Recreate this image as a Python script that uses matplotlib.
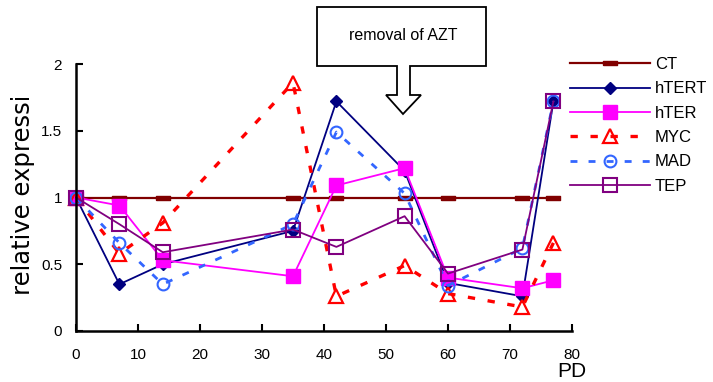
import matplotlib
matplotlib.use("Agg")
import matplotlib.pyplot as plt
from matplotlib.patches import Polygon
from matplotlib.transforms import Bbox, TransformedBbox
from matplotlib.ticker import FuncFormatter

plt.rcParams['font.family'] = ['Liberation Sans', 'DejaVu Sans']

# ---- data ----
pd_days = [0, 7, 14, 35, 42, 53, 60, 72, 77]
ct    = [1.0, 1.0, 1.0, 1.0, 1.0, 1.0, 1.0, 1.0, 1.0]
htert = [1.0, 0.35, 0.50, 0.75, 1.72, 1.20, 0.36, 0.26, 1.72]
hter  = [1.0, 0.94, 0.53, 0.41, 1.09, 1.22, 0.40, 0.32, 0.38]
myc   = [1.0, 0.58, 0.81, 1.86, 0.26, 0.49, 0.28, 0.18, 0.66]
mad   = [1.0, 0.66, 0.35, 0.80, 1.49, 1.03, 0.34, 0.62, 1.72]
tep   = [1.0, 0.80, 0.59, 0.76, 0.63, 0.86, 0.43, 0.61, 1.72]
series_labels = ["CT", "hTERT", "hTER", "MYC", "MAD", "TEP"]
x_ticks = [0, 10, 20, 30, 40, 50, 60, 70, 80]
y_ticks = [0, 0.5, 1, 1.5, 2]
annotation_text = "removal of AZT"
x_label = "PD"
y_label = "relative expression"

W, H = 713, 382
fig = plt.figure(figsize=(W / 100, H / 100), dpi=100)
ax = fig.add_axes([76 / W, 1 - 331 / H, (572 - 76) / W, (331 - 64) / H])

bar_marker = [(-3.2, -1), (3.2, -1), (3.2, 1), (-3.2, 1), (-3.2, -1)]

ax.plot(pd_days, ct, color='#800000', lw=1.6, marker=bar_marker, ms=9.5,
        mfc='#800000', mec='#800000', label=series_labels[0], clip_on=False)
ax.plot(pd_days, htert, color='#000080', lw=1.3, marker='D', ms=6.5,
        mfc='#000080', mec='#000080', label=series_labels[1], clip_on=False)
ax.plot(pd_days, hter, color='#FF00FF', lw=1.3, marker='s', ms=9.5,
        mfc='#FF00FF', mec='#FF00FF', label=series_labels[2], clip_on=False)
ax.plot(pd_days, myc, color='#FF0000', lw=2.4, ls=(0, (2.2, 3.8)), marker='^', ms=10,
        mfc='none', mec='#FF0000', mew=1.6, label=series_labels[3], clip_on=False)
ax.plot(pd_days, mad, color='#3366FF', lw=2.0, ls=(0, (2.5, 4)), marker='o', ms=8.5,
        mfc='none', mec='#3366FF', mew=1.5, label=series_labels[4], clip_on=False)
ax.plot(pd_days, tep, color='#800080', lw=1.3, marker='s', ms=10,
        mfc='none', mec='#800080', mew=1.5, label=series_labels[5], clip_on=False)

ax.set_xlim(0, 80)
ax.set_ylim(0, 2)
ax.set_xticks(x_ticks)
ax.set_yticks(y_ticks)
ax.yaxis.set_major_formatter(FuncFormatter(lambda v, p: f"{v:g}"))
for s in ['top', 'right']:
    ax.spines[s].set_visible(False)
for s in ['left', 'bottom']:
    ax.spines[s].set_linewidth(1.8)
ax.tick_params(direction='in', length=5, width=1.5, labelsize=11, pad=10)
ax.tick_params(axis='x', pad=12)
ax.set_facecolor('none')

fig.text(572 / W, 1 - 377 / H, x_label, fontsize=15, ha='center', va='baseline')
yl = fig.text(23 / W, 1 - 295 / H, y_label, fontsize=17.5, rotation=90,
              ha='center', va='bottom', family=['DejaVu Sans'])
yl.set_clip_box(TransformedBbox(Bbox([[0, 0], [60 / W, 1 - 98 / H]]), fig.transFigure))

leg = fig.legend(loc='upper left', bbox_to_anchor=(570 / W, 1 - 57 / H), frameon=False,
                 fontsize=12, handlelength=4.8, handletextpad=0.3, labelspacing=0.56,
                 borderpad=0, borderaxespad=0)

# annotation callout
pts = [(317, 7), (486, 7), (486, 66), (410, 66), (410, 95), (421, 95), (403, 114),
       (386, 95), (397, 95), (397, 66), (317, 66)]
poly = Polygon([(px / W, 1 - py / H) for px, py in pts], closed=True, transform=fig.transFigure,
               facecolor='white', edgecolor='black', lw=1.3, zorder=5)
fig.add_artist(poly)
fig.text(403 / W, 1 - 35 / H, annotation_text, fontsize=11.5, ha='center', va='center', zorder=6)

fig.savefig("out.png", dpi=100)
